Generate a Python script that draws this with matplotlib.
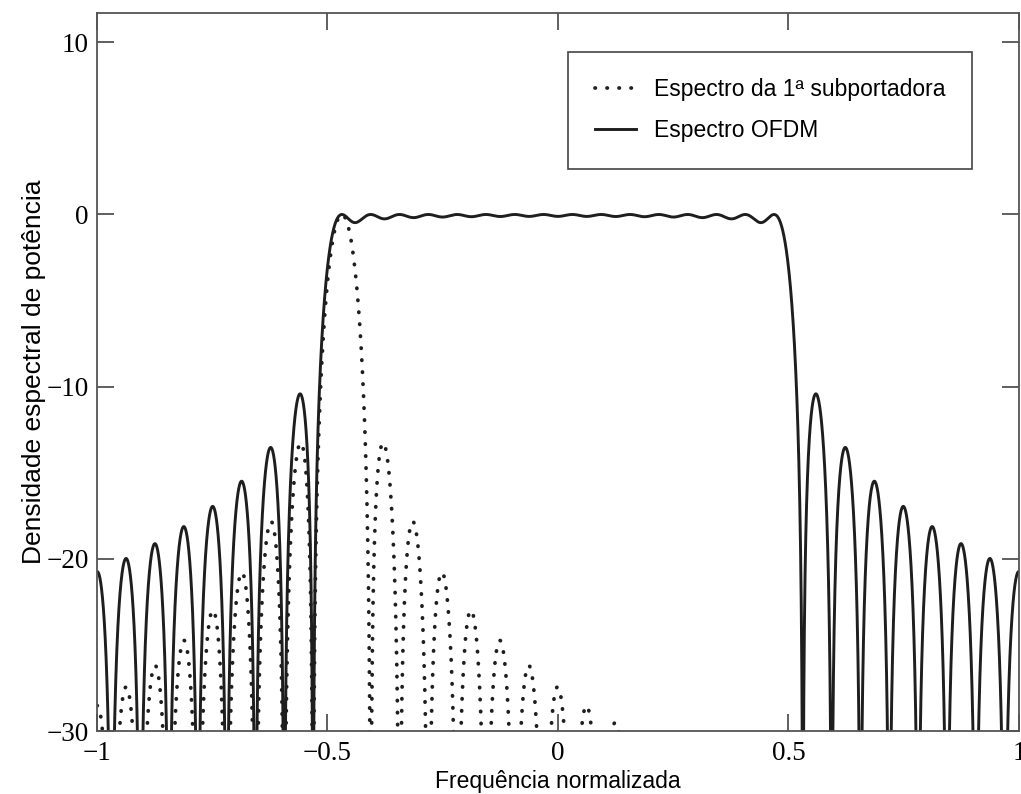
import numpy as np
import matplotlib
matplotlib.use("Agg")
from matplotlib import pyplot as plt

# OFDM com 16 subportadoras ortogonais (espaçamento 1/16 na frequência normalizada)
n_sub = 16
centros = [-0.46875, -0.40625, -0.34375, -0.28125, -0.21875, -0.15625, -0.09375, -0.03125,
           0.03125, 0.09375, 0.15625, 0.21875, 0.28125, 0.34375, 0.40625, 0.46875]

x_ticks = [-1, -0.5, 0, 0.5, 1]
x_tick_labels = ["\u22121", "\u22120.5", "0", "0.5", "1"]
y_ticks = [-30, -20, -10, 0, 10]
y_tick_labels = ["\u221230", "\u221220", "\u221210", "0", "10"]

f = np.linspace(-1, 1, 8001)

# espectro de cada subportadora: sinc^2 centrado em fk
espectros = [np.sinc((f - fk) * n_sub) ** 2 for fk in centros]
psd_sub1 = espectros[0]
psd_ofdm = np.sum(espectros, axis=0)

db_sub1 = 10 * np.log10(np.maximum(psd_sub1 / psd_sub1.max(), 1e-12))
db_ofdm = 10 * np.log10(np.maximum(psd_ofdm / psd_ofdm.max(), 1e-12))

fig = plt.figure(figsize=(10.21, 7.94), dpi=100)
ax = fig.add_axes([0.095, 0.0793, 0.903, 0.9043])

cor = "#1e1e1e"
ax.plot(f, db_sub1, color=cor, lw=2.7, linestyle=(0, (0.1, 3.1)),
        dash_capstyle="round", label="Espectro da 1\u00aa subportadora")
ax.plot(f, db_ofdm, color=cor, lw=2.1, label="Espectro OFDM")

ax.set_xlim(-1, 1)
ax.set_ylim(-30, 11.7)

serif = {"family": "Liberation Serif", "size": 19.5}
ax.set_xticks(x_ticks)
ax.set_xticklabels(x_tick_labels, fontdict=serif)
ax.set_yticks(y_ticks)
ax.set_yticklabels(y_tick_labels, fontdict=serif)
ax.tick_params(direction="in", length=12, width=1.2, color="#444444",
               top=True, right=True, pad=6)
ax.tick_params(axis="x", pad=7)

for s in ax.spines.values():
    s.set_color("#555555")
    s.set_linewidth(1.3)

ax.set_xlabel("Frequ\u00eancia normalizada", family="Liberation Sans", fontsize=16.5, labelpad=3)
ax.set_ylabel("Densidade espectral de pot\u00eancia", family="Liberation Sans", fontsize=19,
              labelpad=0)

leg = ax.legend(loc="upper right", bbox_to_anchor=(0.949, 0.946), borderaxespad=0,
                prop={"family": "Liberation Sans", "size": 16.5}, fancybox=False,
                handlelength=1.8, borderpad=1.15, labelspacing=0.8, handletextpad=0.8)
leg.get_frame().set_edgecolor("#444444")
leg.get_frame().set_linewidth(1.2)
leg.get_frame().set_alpha(1)

fig.savefig("out.png", dpi=100)
